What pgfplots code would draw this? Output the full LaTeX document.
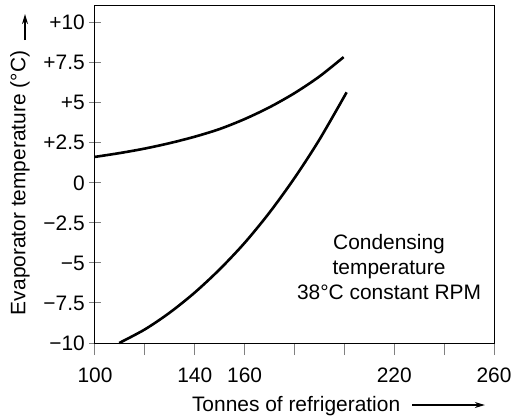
\documentclass[border=0pt]{standalone}
\usepackage{fontspec}
\setmainfont{Liberation Sans}
\usepackage{pgfplots}
\pgfplotsset{compat=1.18}
\usetikzlibrary{arrows.meta}
\begin{document}
\fontsize{21}{25}\selectfont
\begin{tikzpicture}
\useasboundingbox (-95bp,-76bp) rectangle (416bp,343bp);
\begin{axis}[
  at={(0,0)}, anchor=south west,
  scale only axis, width=399bp, height=337bp,
  xmin=100, xmax=260, ymin=-10, ymax=11.04,
  axis line style={line width=1bp},
  xtick={100,120,...,260},
  xticklabels={100,,140,160,,,220,,260},
  ytick={-10,-7.5,...,10},
  yticklabels={−10,−7.5,−5,−2.5,0,+2.5,+5,+7.5,+10},
  xtick pos=bottom, ytick pos=left,
  major tick length=12bp,
  tick style={line width=1bp},
  xtick align=outside, ytick align=center,
  xticklabel style={anchor=base, inner sep=0pt, yshift=-27bp},
  yticklabel style={anchor=east, inner sep=0pt, xshift=-4bp},
  /pgf/number format/assume math mode=true,
  xlabel={Tonnes of refrigeration},
  xlabel style={at={(axis description cs:0.504,-0.186)}, anchor=center, inner sep=0pt},
  ylabel={Evaporator temperature (°C)},
  ylabel style={at={(axis description cs:-0.188,0.475)}, anchor=center, inner sep=0pt},
  clip=false,
]
\addplot[black, line width=2.6bp, smooth] coordinates {
  (100,1.62) (110,1.86) (120,2.14) (130,2.48) (140,2.88) (150,3.36)
  (160,3.98) (170,4.72) (180,5.6) (190,6.64) (199.7,7.85)};
\addplot[black, line width=2.6bp, smooth] coordinates {
  (109.7,-10) (120,-9.15) (130,-8.1) (140,-6.85) (150,-5.4) (160,-3.75)
  (170,-1.85) (180,0.3) (190,2.7) (200.9,5.65)};
\node[align=center, inner sep=0pt] at (axis description cs:0.737,0.2255)
  {Condensing\\temperature\\38°C constant RPM};
\draw[line width=1.2bp, -{Stealth[length=10bp,width=6bp]}]
  (axis description cs:0.7945,-0.184) -- (axis description cs:0.977,-0.184);
\draw[line width=1.2bp, -{Stealth[length=10bp,width=6bp]}]
  (axis description cs:-0.1754,0.899) -- (axis description cs:-0.1754,0.976);
\end{axis}
\end{tikzpicture}
\end{document}
